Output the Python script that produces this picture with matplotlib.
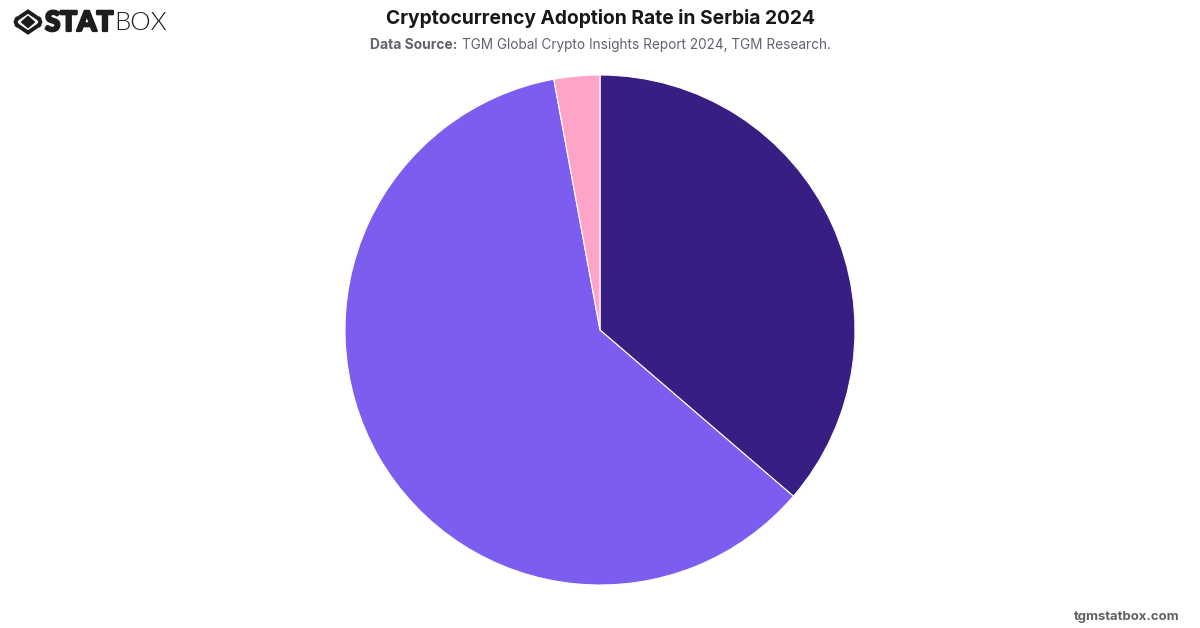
import matplotlib
matplotlib.use("Agg")
import matplotlib.pyplot as plt
import matplotlib.patheffects as pe
from matplotlib.patches import Polygon

WIDTH, HEIGHT = 1200, 628

# Adoption shares, clockwise from twelve o'clock
categories = ["Group A", "Group B", "Group C"]
shares = [36.3, 60.8, 2.9]
slice_colors = ["#381E82", "#7D5DF0", "#FDA4C8"]

title = "Cryptocurrency Adoption Rate in Serbia 2024"
source_label = "Data Source:"
source_text = "TGM Global Crypto Insights Report 2024, TGM Research."
site = "tgmstatbox.com"

plt.rcParams["font.family"] = ["Inter", "DejaVu Sans"]

fig = plt.figure(figsize=(WIDTH / 100, HEIGHT / 100), dpi=100, facecolor="white")

# Full-figure layer in pixel units for header, logo and footer
page = fig.add_axes([0, 0, 1, 1])
page.set_xlim(0, WIDTH)
page.set_ylim(HEIGHT, 0)
page.axis("off")

# Pie sits in its own square axes, 510 px across
ax = fig.add_axes([345 / WIDTH, (HEIGHT - 585) / HEIGHT, 510 / WIDTH, 510 / HEIGHT])
ax.pie(
    shares,
    colors=slice_colors,
    startangle=90,
    counterclock=False,
    radius=1,
    wedgeprops={"edgecolor": "white", "linewidth": 0.8},
)
ax.set_xlim(-1, 1)
ax.set_ylim(-1, 1)
for wedge in ax.patches:
    wedge.set_clip_on(False)

page.text(600, 18.5, title, ha="center", va="center", fontsize=13.85,
          fontweight="bold", color="#18181b")
page.text(370, 45, source_label, ha="left", va="center", fontsize=9.95,
          fontweight="bold", color="#62626e")
page.text(462, 45, source_text, ha="left", va="center", fontsize=9.8,
          color="#62626e")
page.text(1180, 617, site, ha="right", va="center", fontsize=9.45,
          fontweight="bold", color="#5f5f66")

# Logo mark: diamond with a chevron outline around it
logo_dark = "#1d1d1f"
page.add_patch(Polygon([(28, 15.5), (35.5, 22), (28, 28.5), (20.5, 22)], color=logo_dark, lw=0))
page.plot([17, 28, 39], [19, 11.5, 19], color=logo_dark, lw=2.8, solid_joinstyle="miter")
page.plot([17, 28, 39], [25, 32.5, 25], color=logo_dark, lw=2.8, solid_joinstyle="miter")
page.plot([17, 15.5, 17], [19, 22, 25], color=logo_dark, lw=2.8)
page.plot([39, 40.5, 39], [19, 22, 25], color=logo_dark, lw=2.8)

page.text(45, 23, "STAT", ha="left", va="center", fontsize=20, fontweight=900,
          family="Lato", color=logo_dark,
          path_effects=[pe.withStroke(linewidth=1.6, foreground=logo_dark)])
page.text(114, 23, "BOX", ha="left", va="center", fontsize=18.5, fontweight=300,
          family="Lato", color=logo_dark)

fig.savefig("out.png", dpi=100, facecolor="white")
